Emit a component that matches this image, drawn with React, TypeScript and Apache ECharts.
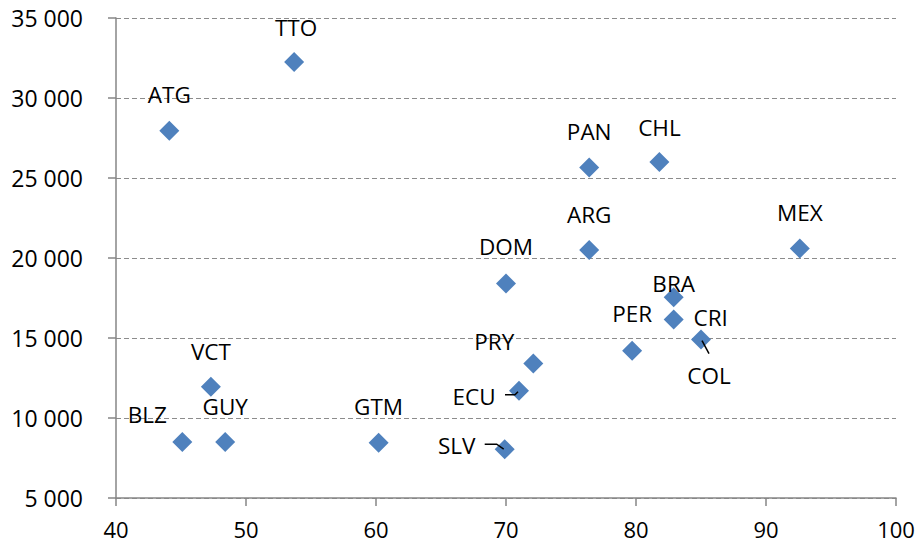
import React, { useEffect, useRef } from "react";
import * as echarts from "echarts";

const countries = ["TTO", "ATG", "PAN", "CHL", "ARG", "MEX", "DOM", "BRA", "CRI", "COL", "PER", "PRY", "ECU", "SLV", "VCT", "BLZ", "GUY", "GTM"];
const xValues = [53.7, 44.1, 76.4, 81.8, 76.4, 92.6, 70.0, 82.9, 82.9, 85.0, 79.7, 72.1, 71.0, 69.9, 47.3, 45.1, 48.4, 60.2];
const yValues = [32250, 27950, 25650, 26000, 20500, 20600, 18400, 17550, 16150, 14900, 14200, 13400, 11700, 8050, 11950, 8500, 8500, 8450];
const xTicks = { min: 40, max: 100, interval: 10 };
const yTicks = { min: 5000, max: 35000, interval: 5000 };

// label offsets relative to marker centre (layout only)
const labelOffsets: Record<string, [number, number]> = {
  TTO: [2, -35], ATG: [0, -36], PAN: [0, -36], CHL: [0, -35], ARG: [0, -36], MEX: [0, -36],
  DOM: [0, -37], BRA: [0, -14], CRI: [37, -2], COL: [8, 36], PER: [0, -37], PRY: [-39, -22],
  ECU: [-45, 6], SLV: [-48, -4], VCT: [0, -35], BLZ: [-35, -28], GUY: [0, -36], GTM: [0, -36],
};
// leader line shapes relative to marker centre (layout only)
const leaderShapes: Record<string, number[][]> = {
  ECU: [[-14, 4], [-4, 4], [-1, 1]],
  SLV: [[-20, -5], [-8, -5], [-1, 0]],
  COL: [[1, 1], [8, 14]],
};

const FONT = "'Open Sans', 'Noto Sans', sans-serif";

export default function App() {
  const ref = useRef<HTMLDivElement>(null);
  useEffect(() => {
    if (!ref.current) return;
    const chart = echarts.init(ref.current, undefined, { renderer: "svg" });
    const data = countries.map((c, i) => ({
      name: c,
      value: [xValues[i], yValues[i]],
      label: {
        show: true,
        position: "inside",
        offset: labelOffsets[c],
        formatter: c,
        color: "#000",
      },
    }));
    chart.setOption({
      animation: false,
      grid: { left: 116, right: 24, top: 18, bottom: 47, containLabel: false },
      xAxis: {
        type: "value",
        min: xTicks.min,
        max: xTicks.max,
        interval: xTicks.interval,
        axisLine: { show: true, lineStyle: { color: "#868686", width: 1.5 } },
        axisTick: { show: true, length: 8, lineStyle: { color: "#868686", width: 1.5 } },
        splitLine: { show: false },
        axisLabel: { color: "#000", fontSize: 22, fontFamily: FONT, margin: 20 },
      },
      yAxis: {
        type: "value",
        min: yTicks.min,
        max: yTicks.max,
        interval: yTicks.interval,
        axisLine: { show: true, lineStyle: { color: "#868686", width: 1.5 } },
        axisTick: { show: true, length: 8, lineStyle: { color: "#868686", width: 1.5 } },
        splitLine: { show: true, lineStyle: { color: "#8c8c8c", width: 1.2, type: [5, 3] } },
        axisLabel: {
          color: "#000",
          fontSize: 23,
          fontFamily: FONT,
          margin: 33,
          formatter: (v: number) => String(v).replace(/\B(?=(\d{3})+(?!\d))/g, " "),
        },
      },
      series: [
        {
          type: "scatter",
          symbol: "diamond",
          symbolSize: 20,
          itemStyle: { color: "#4F81BD", opacity: 1 },
          label: { color: "#000", fontSize: 22.5, fontFamily: FONT, textBorderWidth: 0 },
          emphasis: { disabled: true },
          data,
        },
      ],
    });
    const graphics = Object.keys(leaderShapes).map((c) => {
      const i = countries.indexOf(c);
      const [px, py] = chart.convertToPixel({ gridIndex: 0 }, [xValues[i], yValues[i]]) as number[];
      return {
        type: "polyline",
        z: 100,
        silent: true,
        shape: { points: leaderShapes[c].map(([dx, dy]) => [px + dx, py + dy]) },
        style: { stroke: "#000", lineWidth: 1.5, fill: null },
      };
    });
    chart.setOption({ graphic: graphics });
    return () => chart.dispose();
  }, []);
  return (
    <div
      ref={ref}
      style={{ position: "absolute", left: 0, top: 0, width: 920, height: 545, background: "#fff" }}
    />
  );
}
